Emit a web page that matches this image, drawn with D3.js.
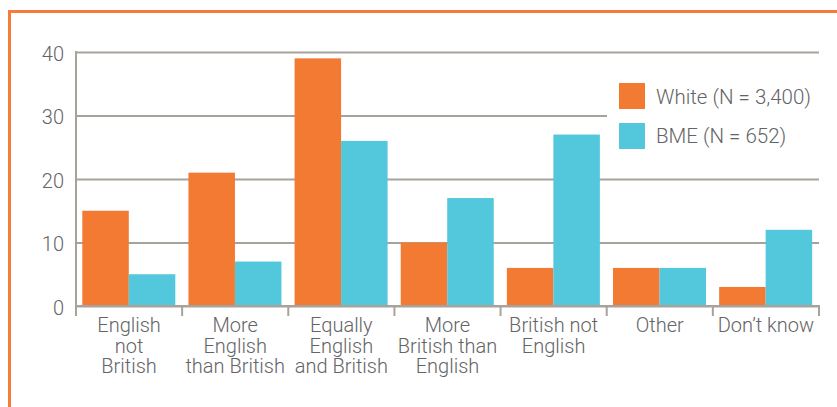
<!DOCTYPE html>
<html>
<head>
<meta charset="utf-8">
<script src="https://cdn.jsdelivr.net/npm/d3@7"></script>
<style>
  html, body { margin: 0; padding: 0; background: #fff; }
  svg text { font-family: Roboto, "Liberation Sans", Arial, sans-serif; font-weight: 300; fill: #646466; }
</style>
</head>
<body>
<svg id="chart" width="837" height="407"></svg>
<script>
// Identity categories (multi-line labels)
const categories = [
  ["English", "not", "British"],
  ["More", "English", "than British"],
  ["Equally", "English", "and British"],
  ["More", "British than", "English"],
  ["British not", "English"],
  ["Other"],
  ["Don\u2019t know"]
];
const seriesNames = ["White (N = 3,400)", "BME (N = 652)"];
const whiteValues = [15, 21, 39, 10, 6, 6, 3];
const bmeValues = [5, 7, 26, 17, 27, 6, 12];
const yTicks = [0, 10, 20, 30, 40];
const colors = ["#f37a33", "#53c7dc"];

const svg = d3.select("#chart");
const gridColor = "#a8a29d";

const plot = { left: 76, right: 819, top: 52, bottom: 306 };

const catKeys = categories.map((c, i) => i);
const x0 = d3.scaleBand().domain(catKeys).range([plot.left, plot.right]).padding(0);
const x1 = d3.scaleBand().domain([0, 1]).range([6.3, 6.3 + 93]).padding(0);
const y = d3.scaleLinear().domain([0, 40]).range([plot.bottom, plot.top]);

// Outer frame (top and left edges)
svg.append("path")
  .attr("d", `M9.5,407 L9.5,11.5 L837,11.5`)
  .attr("fill", "none")
  .attr("stroke", "#f47d3c")
  .attr("stroke-width", 3);

// Gridlines and y labels
const yAxis = svg.append("g")
  .attr("transform", `translate(${plot.left},0)`)
  .call(d3.axisLeft(y).tickValues(yTicks).tickSize(-(plot.right - plot.left)).tickPadding(12));
yAxis.select(".domain").remove();
yAxis.selectAll(".tick line").attr("stroke", gridColor).attr("stroke-width", 2);
yAxis.selectAll(".tick text")
  .attr("font-size", 20)
  .attr("dy", "0.42em")
  .style("font-family", null)
  .attr("fill", null);
yAxis.attr("font-family", null);

// Legend with a white panel that sits over the gridlines
const legend = svg.append("g");
legend.append("rect")
  .attr("x", 607).attr("y", 66).attr("width", 213).attr("height", 100)
  .attr("fill", "#fff");
seriesNames.forEach((name, i) => {
  legend.append("rect")
    .attr("x", 619).attr("y", 83 + i * 40)
    .attr("width", 26).attr("height", 26)
    .attr("fill", colors[i]);
  legend.append("text")
    .attr("x", 656).attr("y", 103.5 + i * 39.5)
    .attr("font-size", 20.5)
    .text(name);
});

// Bars
const groups = svg.append("g").selectAll("g")
  .data(catKeys)
  .join("g")
  .attr("transform", d => `translate(${x0(d)},0)`);

groups.selectAll("rect")
  .data(d => [whiteValues[d], bmeValues[d]].map((v, s) => ({ v, s })))
  .join("rect")
  .attr("x", d => x1(d.s))
  .attr("width", x1.bandwidth())
  .attr("y", d => y(d.v))
  .attr("height", d => y(0) - y(d.v))
  .attr("fill", d => colors[d.s]);

// Left axis line
svg.append("line")
  .attr("x1", plot.left).attr("x2", plot.left)
  .attr("y1", plot.top - 1).attr("y2", plot.bottom)
  .attr("stroke", gridColor).attr("stroke-width", 2);

// Bottom axis with ticks at band boundaries
const xAxis = svg.append("g");
xAxis.append("line")
  .attr("x1", plot.left - 1).attr("x2", plot.right + 1)
  .attr("y1", plot.bottom).attr("y2", plot.bottom)
  .attr("stroke", gridColor).attr("stroke-width", 2);
const boundaries = catKeys.map(k => x0(k)).concat([x0.range()[1]]);
xAxis.selectAll("line.tick")
  .data(boundaries)
  .join("line")
  .attr("class", "tick")
  .attr("x1", d => d).attr("x2", d => d)
  .attr("y1", plot.bottom).attr("y2", plot.bottom + 10)
  .attr("stroke", gridColor).attr("stroke-width", 2);

// Category labels
const labels = xAxis.selectAll("text")
  .data(catKeys)
  .join("text")
  .attr("text-anchor", "middle")
  .attr("font-size", 20)
  .attr("x", d => x0(d) + x0.bandwidth() / 2)
  .attr("y", 332);
labels.selectAll("tspan")
  .data(d => categories[d])
  .join("tspan")
  .attr("x", function () { return d3.select(this.parentNode).attr("x"); })
  .attr("dy", (d, i) => i === 0 ? 0 : 20.7)
  .text(d => d);
</script>
</body>
</html>
